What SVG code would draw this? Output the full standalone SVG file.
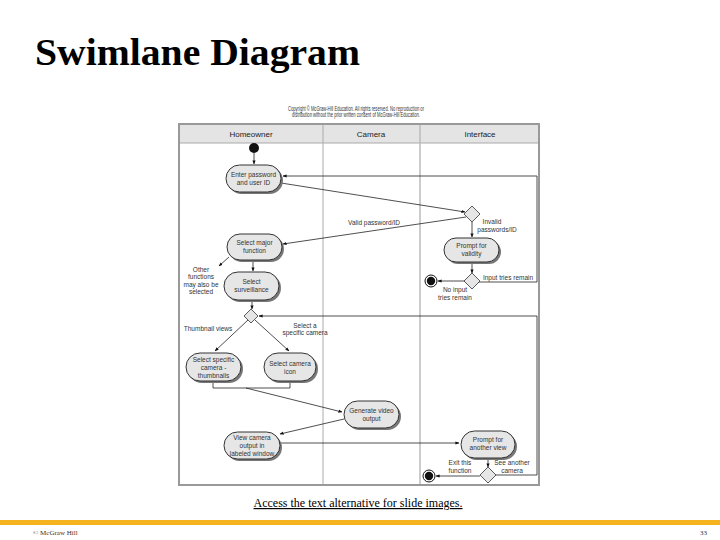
<svg xmlns="http://www.w3.org/2000/svg" width="720" height="540" viewBox="0 0 720 540">
<defs>
<marker id="ah" viewBox="0 0 10 10" refX="9" refY="5" markerWidth="5" markerHeight="5" orient="auto"><path d="M0,1 L10,5 L0,9 z" fill="#111"/></marker>
<style>
.nd{fill:#e6e6e6;stroke:#333;stroke-width:1}
.sh{fill:#777}
.nt{font-family:"Liberation Sans",Arial,sans-serif;font-size:6.5px;fill:#333;text-anchor:middle}
.lb{font-family:"Liberation Sans",Arial,sans-serif;font-size:6.5px;fill:#333;text-anchor:middle}
.hd{font-family:"Liberation Sans",Arial,sans-serif;font-size:8px;fill:#222;text-anchor:middle}
.cn{fill:none;stroke:#222;stroke-width:0.8}
.ca{fill:none;stroke:#222;stroke-width:0.8;marker-end:url(#ah)}
.dm{fill:#e6e6e6;stroke:#333;stroke-width:0.8}
</style>
</defs>
<rect width="720" height="540" fill="#fff"/>
<text x="35" y="65" font-family="Liberation Serif,'Times New Roman',serif" font-weight="bold" font-size="37" fill="#000" textLength="325" lengthAdjust="spacingAndGlyphs">Swimlane Diagram</text>
<g id="copyright">
<text x="356" y="111" class="lb" font-size="3.6" textLength="136" lengthAdjust="spacingAndGlyphs">Copyright © McGraw-Hill Education. All rights reserved. No reproduction or</text>
<text x="356" y="116.5" class="lb" font-size="3.6" textLength="128" lengthAdjust="spacingAndGlyphs">distribution without the prior written consent of McGraw-Hill Education.</text>
</g>
<g id="frame">
<rect x="179" y="124" width="360" height="361" fill="#fff" stroke="#999" stroke-width="2"/>
<rect x="180" y="125" width="358" height="18" fill="#e4e4e4"/>
<line x1="180" y1="143" x2="538" y2="143" stroke="#aaa" stroke-width="1"/>
<line x1="323" y1="125" x2="323" y2="484" stroke="#aaa" stroke-width="1"/>
<line x1="420" y1="125" x2="420" y2="484" stroke="#bbb" stroke-width="1.5"/>
<text x="251" y="137" class="hd">Homeowner</text>
<text x="371" y="137" class="hd">Camera</text>
<text x="480" y="137" class="hd">Interface</text>
</g>
<g id="connectors">
<line class="ca" x1="254" y1="153" x2="254" y2="164"/>
<line class="ca" x1="281" y1="183" x2="465" y2="212"/>
<polyline class="ca" points="478,282 537,282 537,176 283,176"/>
<line class="ca" x1="466" y1="217" x2="283" y2="244"/>
<line class="ca" x1="472" y1="222" x2="472" y2="237"/>
<line class="ca" x1="472" y1="262" x2="472" y2="273"/>
<line class="ca" x1="465" y1="281" x2="438" y2="281"/>
<line class="ca" x1="229" y1="257" x2="219" y2="266"/>
<line class="ca" x1="253" y1="260" x2="253" y2="271"/>
<line class="ca" x1="252" y1="301" x2="252" y2="309"/>
<polyline class="ca" points="495,475 537,475 537,316 259,316"/>
<line class="ca" x1="248" y1="320" x2="215" y2="351"/>
<line class="ca" x1="255" y1="320" x2="289" y2="351"/>
<polyline class="cn" points="213,382 213,388 290,388 290,382"/>
<line class="ca" x1="246" y1="388" x2="342" y2="412"/>
<line class="ca" x1="344" y1="419" x2="280" y2="434"/>
<line class="ca" x1="280" y1="443" x2="459" y2="443"/>
<line class="ca" x1="488" y1="459" x2="488" y2="467"/>
<line class="ca" x1="480" y1="476" x2="436" y2="476"/>
</g>
<g id="labels">
<text x="374" y="225" class="lb">Valid password/ID</text>
<text x="492" y="224" class="lb">Invalid</text>
<text x="497" y="232" class="lb">passwords/ID</text>
<text x="508" y="279.5" class="lb">Input tries remain</text>
<text x="455" y="292" class="lb">No input</text>
<text x="455" y="300" class="lb">tries remain</text>
<text x="201" y="272" class="lb">Other</text>
<text x="201" y="279" class="lb">functions</text>
<text x="201" y="287" class="lb">may also be</text>
<text x="201" y="294" class="lb">selected</text>
<text x="208" y="331" class="lb">Thumbnail views</text>
<text x="305" y="328" class="lb">Select a</text>
<text x="305" y="335" class="lb">specific camera</text>
<text x="460" y="465" class="lb">Exit this</text>
<text x="460" y="472.5" class="lb">function</text>
<text x="512" y="465" class="lb">See another</text>
<text x="512" y="472.5" class="lb">camera</text>
</g>
<g id="start"><circle cx="254" cy="148" r="5" fill="#111"/></g>
<g id="n-enter">
<rect class="sh" x="228" y="167" width="55" height="27" rx="13.5"/>
<rect class="nd" x="226" y="165" width="55" height="27" rx="13.5"/>
<text x="253.5" y="177" class="nt">Enter password</text>
<text x="253.5" y="185" class="nt">and user ID</text>
</g>
<g id="d-valid"><path class="dm" d="M472,206 L480,214 L472,222 L464,214 z"/></g>
<g id="n-prompt-validity">
<rect class="sh" x="446" y="240" width="55" height="24" rx="12"/>
<rect class="nd" x="444" y="238" width="55" height="24" rx="12"/>
<text x="471.5" y="248" class="nt">Prompt for</text>
<text x="471.5" y="256" class="nt">validity</text>
</g>
<g id="d-tries"><path class="dm" d="M472,273 L480,281 L472,289 L464,281 z"/></g>
<g id="end1"><circle cx="431" cy="281" r="6" fill="#fff" stroke="#111" stroke-width="1"/><circle cx="431" cy="281" r="4.2" fill="#111"/></g>
<g id="n-major">
<rect class="sh" x="229" y="236" width="55" height="26" rx="13"/>
<rect class="nd" x="227" y="234" width="55" height="26" rx="13"/>
<text x="254.5" y="245" class="nt">Select major</text>
<text x="254.5" y="253" class="nt">function</text>
</g>
<g id="n-surv">
<rect class="sh" x="226" y="274" width="55" height="28" rx="14"/>
<rect class="nd" x="224" y="272" width="55" height="28" rx="14"/>
<text x="251.5" y="284" class="nt">Select</text>
<text x="251.5" y="292" class="nt">surveillance</text>
</g>
<g id="d-view"><path class="dm" d="M251,309 L258,316 L251,323 L244,316 z"/></g>
<g id="n-thumb">
<rect class="sh" x="188" y="355" width="55" height="28" rx="14"/>
<rect class="nd" x="186" y="353" width="55" height="28" rx="14"/>
<text x="213.5" y="362" class="nt">Select specific</text>
<text x="213.5" y="370" class="nt">camera -</text>
<text x="213.5" y="378" class="nt">thumbnails</text>
</g>
<g id="n-icon">
<rect class="sh" x="266" y="355" width="52" height="28" rx="14"/>
<rect class="nd" x="264" y="353" width="52" height="28" rx="14"/>
<text x="290" y="366" class="nt">Select camera</text>
<text x="290" y="374" class="nt">icon</text>
</g>
<g id="n-generate">
<rect class="sh" x="346" y="403" width="55" height="27" rx="13.5"/>
<rect class="nd" x="344" y="401" width="55" height="27" rx="13.5"/>
<text x="371.5" y="413" class="nt">Generate video</text>
<text x="371.5" y="421" class="nt">output</text>
</g>
<g id="n-viewcam">
<rect class="sh" x="226" y="434" width="56" height="27" rx="13.5"/>
<rect class="nd" x="224" y="432" width="56" height="27" rx="13.5"/>
<text x="252" y="440" class="nt">View camera</text>
<text x="252" y="448" class="nt">output in</text>
<text x="252" y="456" class="nt">labeled window</text>
</g>
<g id="n-prompt-another">
<rect class="sh" x="463" y="433" width="54" height="27" rx="13.5"/>
<rect class="nd" x="461" y="431" width="54" height="27" rx="13.5"/>
<text x="488" y="442" class="nt">Prompt for</text>
<text x="488" y="450" class="nt">another view</text>
</g>
<g id="d-another"><path class="dm" d="M488,467 L496,475 L488,483 L480,475 z"/></g>
<g id="end2"><circle cx="429" cy="476" r="6" fill="#fff" stroke="#111" stroke-width="1"/><circle cx="429" cy="476" r="4.2" fill="#111"/></g>
<g id="footer">
<text x="358" y="507" font-family="Liberation Serif,'Times New Roman',serif" font-size="12" text-anchor="middle" text-decoration="underline" fill="#000">Access the text alternative for slide images.</text>
<rect x="0" y="520" width="720" height="5" fill="#f5b320"/>
<text x="33" y="535" font-family="Liberation Serif,'Times New Roman',serif" font-size="7" fill="#333">© McGraw Hill</text>
<text x="700" y="535" font-family="Liberation Serif,'Times New Roman',serif" font-size="7" fill="#333">33</text>
</g>
</svg>
